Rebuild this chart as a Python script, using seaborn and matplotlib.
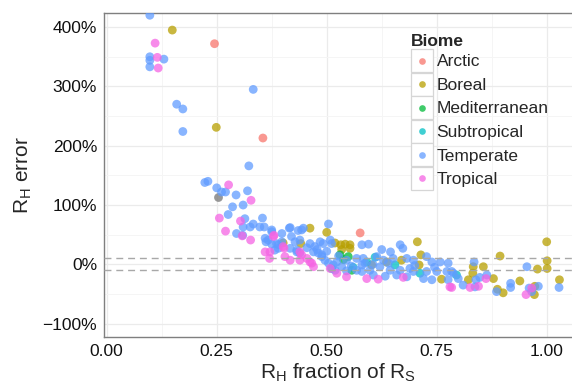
import matplotlib
matplotlib.use("Agg")
import matplotlib.pyplot as plt
import seaborn as sns
import pandas as pd
from matplotlib.legend_handler import HandlerBase
from matplotlib.patches import Rectangle
from matplotlib.lines import Line2D
from matplotlib.ticker import FuncFormatter, MultipleLocator

# ---------------- data ----------------
biomes = ["Arctic", "Boreal", "Mediterranean", "Subtropical", "Temperate", "Tropical"]
colors = ["#F8766D", "#B79F00", "#00BA38", "#00BFC4", "#619CFF", "#F564E3"]

arctic_x = [0.245, 0.355, 0.576]
arctic_y = [372, 213, 53]

boreal_x = [0.149, 0.249, 0.462, 0.401, 0.441, 0.500, 0.519, 0.532, 0.542, 0.553,
            0.534, 0.553, 0.706, 0.714, 0.670, 0.602, 0.710, 0.636, 0.761, 0.894,
            1.000, 1.001, 1.001, 0.979, 1.029, 0.833, 0.832, 0.856, 0.822, 0.879,
            0.939, 0.888, 0.901, 0.972, 0.973]
boreal_y = [395, 231, 61, 36, 35, 54, 36, 33, 34, 33,
            25, 27, 38, 16, 7, -1, -1, 4, -25, 14,
            38, 6, -7, -8, -26, -4, -15, -4, -26, -24,
            -28, -42, -48, -51, -37]

medit_x = [0.530, 0.549, 0.557, 0.538]
medit_y = [16, 13, -10, 8]

subtrop_x = [0.511, 0.591, 0.610, 0.655, 0.712, 0.795, 0.560]
subtrop_y = [-7, 4, 12, -1, -15, -18, -5]

temperate_x = [0.098, 0.098, 0.098, 0.130, 0.098, 0.333, 0.159, 0.173, 0.173, 0.323,
               0.223, 0.230, 0.250, 0.261, 0.270, 0.294, 0.320, 0.310, 0.286, 0.276,
               0.314, 0.310, 0.326, 0.333, 0.354, 0.348, 0.358, 0.375, 0.295, 0.309,
               0.415, 0.398, 0.435, 0.360, 0.367, 0.362, 0.375, 0.390, 0.382, 0.390,
               0.375, 0.417, 0.443, 0.447, 0.420, 0.386, 0.398, 0.428, 0.439, 0.417,
               0.432, 0.439, 0.504, 0.485, 0.492, 0.462, 0.473, 0.508, 0.511, 0.580,
               0.595, 0.470, 0.481, 0.489, 0.496, 0.504, 0.515, 0.523, 0.534, 0.545,
               0.568, 0.580, 0.587, 0.519, 0.545, 0.568, 0.580, 0.625, 0.645, 0.667,
               0.673, 0.583, 0.614, 0.629, 0.651, 0.682, 0.697, 0.727, 0.739, 0.758,
               0.776, 0.598, 0.621, 0.644, 0.667, 0.689, 0.697, 0.727, 0.750, 0.773,
               0.788, 0.606, 0.633, 0.659, 0.682, 0.720, 0.739, 0.776, 0.835, 0.955,
               1.028, 0.784, 0.799, 0.810, 0.839, 0.848, 0.864, 0.837, 0.886, 0.918,
               0.918, 0.960, 0.981, 0.966, 0.432, 0.489, 0.455, 0.478, 0.500, 0.527,
               0.556, 0.605, 0.640, 0.700, 0.745]
temperate_y = [420, 350, 344, 346, 333, 295, 270, 262, 224, 166,
               138, 140, 129, 122, 122, 117, 124, 100, 97, 84,
               77, 63, 63, 68, 78, 63, 63, 58, 52, 49,
               61, 52, 57, 44, 41, 38, 34, 33, 24, 27,
               55, 62, 58, 61, 47, 35, 38, 38, 41, 27,
               24, 19, 68, 38, 35, 35, 30, 41, 35, 33,
               34, 21, 19, 13, 7, 2, -1, 4, -4, 7,
               10, -1, 2, -10, -11, -10, -12, 25, 21, 33,
               27, 10, 13, 7, 10, 10, 7, 13, 4, 4,
               2, -10, -4, -10, -10, -7, -12, -12, -12, -12,
               -15, -18, -20, -18, -21, -24, -26, -26, 4, -4,
               -39, -12, -24, -35, -26, -22, -18, -38, -46, -32,
               -39, -40, -37, -46, 21, 16, 28, 25, 22, 14,
               -3, 0, 2, -2, -5]

tropical_x = [0.110, 0.115, 0.117, 0.277, 0.328, 0.256, 0.270, 0.304, 0.327, 0.308,
              0.379, 0.360, 0.371, 0.370, 0.380, 0.403, 0.439, 0.443, 0.417, 0.439,
              0.455, 0.466, 0.470, 0.508, 0.523, 0.545, 0.591, 0.617, 0.674, 0.780,
              0.784, 0.826, 0.845, 0.862, 0.953, 0.966, 0.401, 0.405, 0.462]
tropical_y = [373, 349, 331, 134, 108, 78, 56, 73, 41, 48,
              47, 21, 21, 10, 49, 27, 21, 16, 7, 7,
              10, 2, -4, -7, -15, -21, -24, -25, -22, -38,
              -39, -39, -37, -24, -51, -40, 30, 13, 4]

na_x = [0.252]
na_y = [113]

ref_lines = [10, -10]
x_ticks = [0.00, 0.25, 0.50, 0.75, 1.00]
y_ticks = [-100, 0, 100, 200, 300, 400]

# ---------------- build table ----------------
frames = []
for name, xs, ys in [("Arctic", arctic_x, arctic_y), ("Boreal", boreal_x, boreal_y),
                     ("Mediterranean", medit_x, medit_y), ("Subtropical", subtrop_x, subtrop_y),
                     ("Temperate", temperate_x, temperate_y), ("Tropical", tropical_x, tropical_y)]:
    frames.append(pd.DataFrame({"frac": xs, "err": ys, "Biome": name}))
df = pd.concat(frames, ignore_index=True)
df_na = pd.DataFrame({"frac": na_x, "err": na_y})

# ---------------- style ----------------
sns.set_style("white")
plt.rcParams["font.family"] = ["Liberation Sans", "DejaVu Sans"]
plt.rcParams["mathtext.fontset"] = "custom"
plt.rcParams["mathtext.rm"] = "Liberation Sans"
plt.rcParams["mathtext.it"] = "Liberation Sans:italic"
plt.rcParams["mathtext.bf"] = "Liberation Sans:bold"

fig = plt.figure(figsize=(5.72, 3.84), dpi=100)
ax = fig.add_axes([104.3 / 572, 1 - 337.3 / 384, (572 - 104.3) / 572, (337.3 - 12.7) / 384])

palette = dict(zip(biomes, colors))
sns.scatterplot(data=df_na, x="frac", y="err", color="#7f7f7f", s=40, alpha=0.8,
                linewidth=0, ax=ax, legend=False, zorder=3)
sns.scatterplot(data=df, x="frac", y="err", hue="Biome", hue_order=biomes, palette=palette,
                s=40, alpha=0.75, linewidth=0, ax=ax, legend=False, zorder=3)

for v in ref_lines:
    ax.axhline(v, color="#a8a8a8", lw=1.0, ls=(0, (5, 3.5)), zorder=4)

ax.set_xlim(-0.0055, 1.0575)
ax.set_ylim(-123, 424.3)
ax.set_xticks(x_ticks)
ax.set_yticks(y_ticks)
ax.xaxis.set_minor_locator(MultipleLocator(0.125))
ax.yaxis.set_minor_locator(MultipleLocator(50))
ax.xaxis.set_major_formatter(FuncFormatter(lambda v, p: f"{v:.2f}"))
ax.yaxis.set_major_formatter(FuncFormatter(lambda v, p: (f"{v:.0f}%").replace("-", "\u2212")))

ax.grid(which="major", color="#ebebeb", lw=0.9, zorder=0)
ax.grid(which="minor", color="#f5f5f5", lw=0.7, zorder=0)
ax.set_axisbelow(True)

for side in ["left", "top", "bottom"]:
    ax.spines[side].set_color("#7f7f7f")
    ax.spines[side].set_linewidth(1.0)
ax.spines["right"].set_visible(False)

ax.tick_params(axis="both", which="major", length=2.6, width=0.8, color="#7f7f7f",
               labelsize=12.5, labelcolor="#111111", pad=2.5)
ax.tick_params(axis="both", which="minor", length=0)

ax.set_xlabel(r"R$_\mathrm{H}$ fraction of R$_\mathrm{S}$", fontsize=15, labelpad=2)
ax.set_ylabel(r"R$_\mathrm{H}$ error", fontsize=15, labelpad=6)


class BoxHandler(HandlerBase):
    def create_artists(self, legend, orig_handle, xdescent, ydescent, width, height,
                       fontsize, trans):
        r = Rectangle((-xdescent, -ydescent), width, height, facecolor="white",
                      edgecolor="#d6d6d6", lw=0.9, transform=trans)
        m = Line2D([width / 2 - xdescent], [height / 2 - ydescent], marker="o", ls="",
                   color=orig_handle.get_color(), alpha=0.75, ms=4.8, mec="none",
                   transform=trans)
        return [r, m]


handles = [Line2D([], [], color=c) for c in colors]
leg = ax.legend(handles, biomes, title="Biome", loc="upper left",
                bbox_to_anchor=(0.655, 0.935), frameon=False, fontsize=12.5,
                title_fontproperties={"weight": "bold", "size": 12.5},
                handler_map={Line2D: BoxHandler()}, handlelength=1.3, handleheight=1.66,
                labelspacing=0.03, handletextpad=0.2, borderpad=0, borderaxespad=0,
                alignment="left")
leg.set_zorder(6)

fig.savefig("out.png", dpi=100)
